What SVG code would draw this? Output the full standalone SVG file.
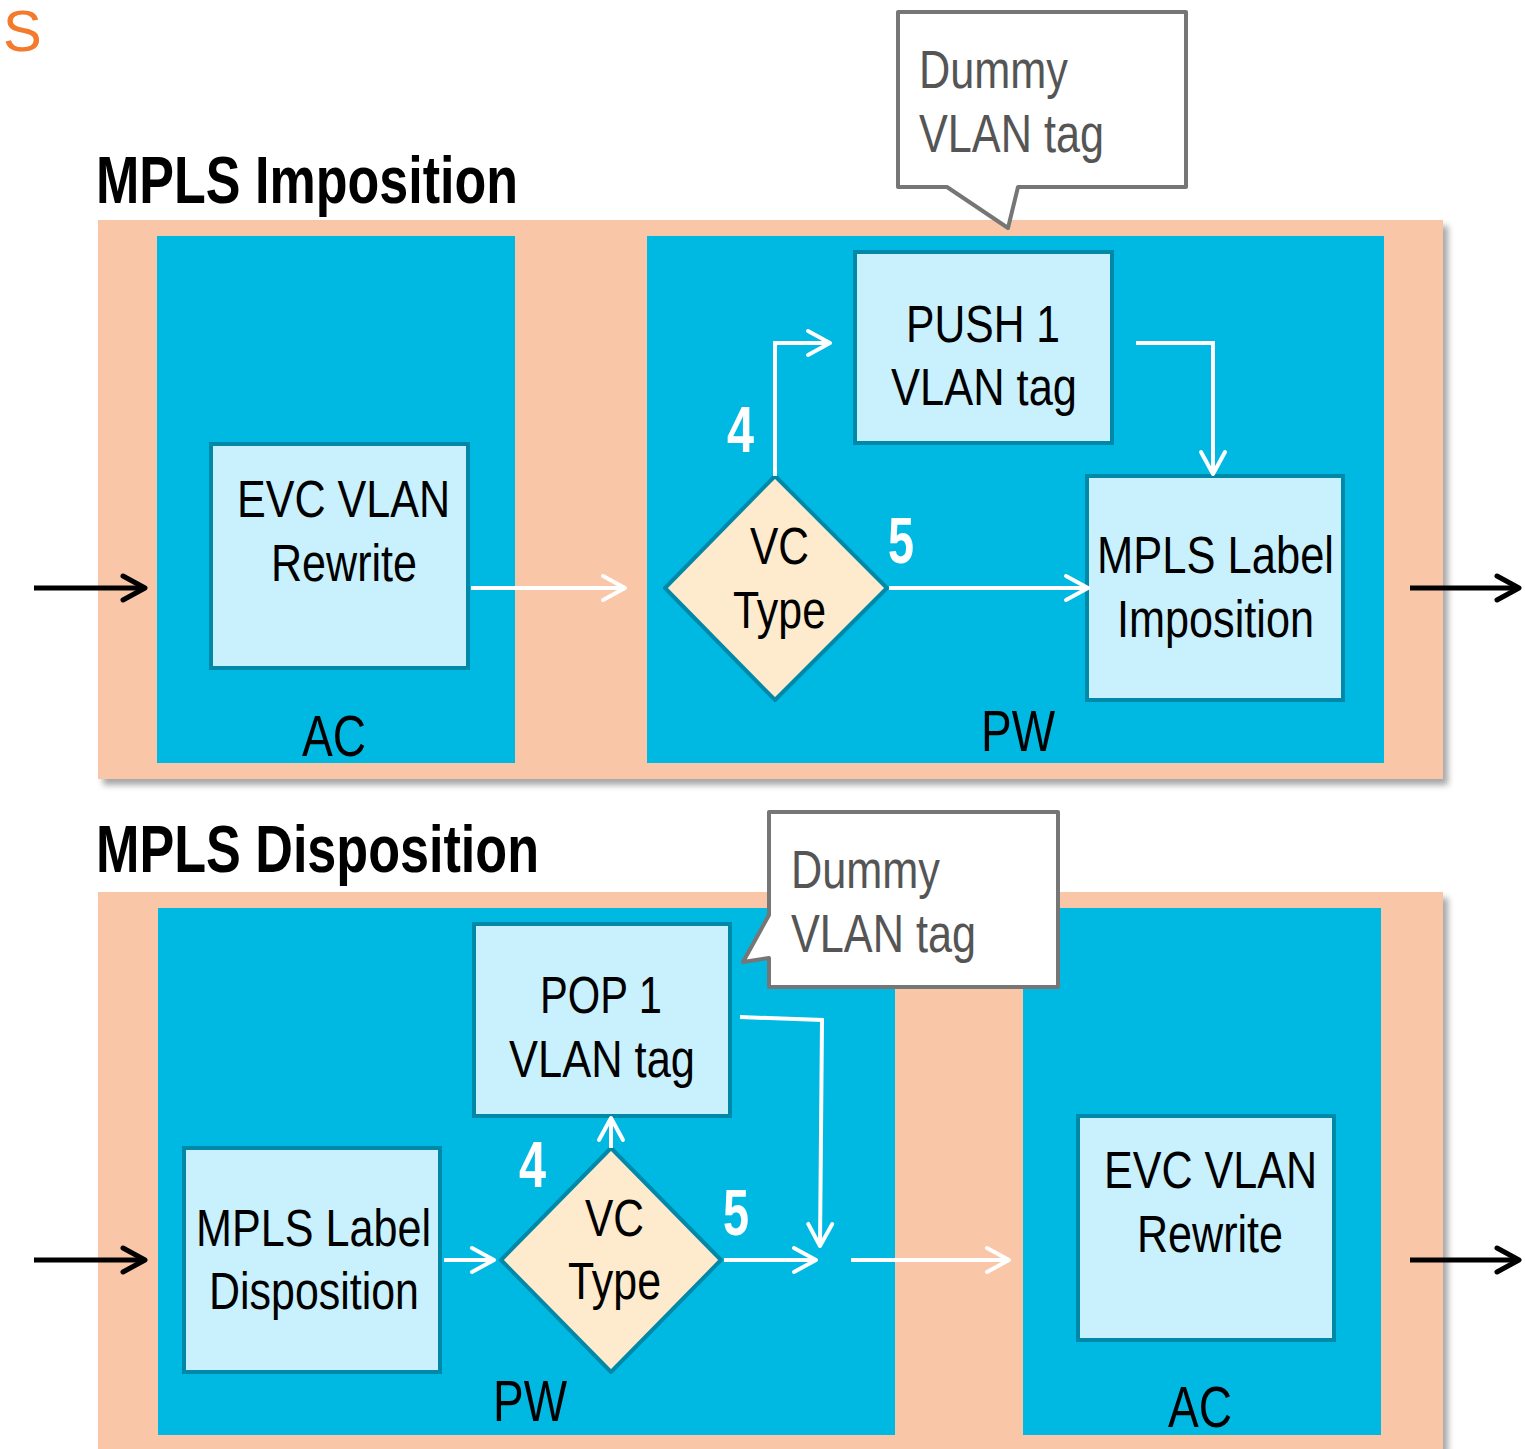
<svg xmlns="http://www.w3.org/2000/svg" width="1525" height="1449" viewBox="0 0 1525 1449">
<style>
text{font-family:"Liberation Sans",Arial,sans-serif;}
.lbl{font-size:51px;fill:#000;}
.big{font-size:57px;fill:#000;}
.title{font-size:67px;font-weight:bold;fill:#000;}
.num{font-size:64px;font-weight:bold;fill:#fff;}
.call{font-size:53px;fill:#555;}
.peach{fill:#F9C6A7;}
.blue{fill:#00B9E3;}
.box{fill:#C9F1FD;stroke:#0088A8;stroke-width:4;}
.dia{fill:#FEEBCD;stroke:#0088A8;stroke-width:4;stroke-linejoin:round;}
.callout{fill:#fff;stroke:#767676;stroke-width:4;stroke-linejoin:round;}
.w{fill:none;stroke:#fff;stroke-width:4;marker-end:url(#aw);}
.k{fill:none;stroke:#000;stroke-width:5;marker-end:url(#ak);}
</style>
<defs>
<filter id="sh" x="-5%" y="-5%" width="112%" height="115%">
<feDropShadow dx="5" dy="6" stdDeviation="3" flood-color="#000" flood-opacity="0.35"/>
</filter>
<marker id="aw" viewBox="-26 -16 30 32" refX="0" refY="0" markerWidth="30" markerHeight="32" markerUnits="userSpaceOnUse" orient="auto">
<path d="M-22,-12 L0,0 L-22,12" fill="none" stroke="#fff" stroke-width="4" stroke-linecap="round" stroke-linejoin="round"/>
</marker>
<marker id="ak" viewBox="-26 -16 30 32" refX="0" refY="0" markerWidth="30" markerHeight="32" markerUnits="userSpaceOnUse" orient="auto">
<path d="M-22,-12 L0,0 L-22,12" fill="none" stroke="#000" stroke-width="5" stroke-linecap="round" stroke-linejoin="round"/>
</marker>
</defs>
<rect width="1525" height="1449" fill="#fff"/>
<text id="logo" x="3" y="51" style="font-size:58px;fill:#F47A2C;">S</text>

<!-- Top section -->
<text id="title-imposition" class="title" x="96" y="203" textLength="422" lengthAdjust="spacingAndGlyphs">MPLS Imposition</text>
<g id="panel-imposition">
<rect class="peach" x="98" y="220" width="1345" height="559" filter="url(#sh)"/>
</g>
<g id="ac-top">
<rect class="blue" x="157" y="236" width="358" height="527"/>
<text class="big" x="302" y="756" textLength="64" lengthAdjust="spacingAndGlyphs">AC</text>
</g>
<g id="pw-top">
<rect class="blue" x="647" y="236" width="737" height="527"/>
<text class="big" x="981" y="751" textLength="74" lengthAdjust="spacingAndGlyphs">PW</text>
</g>
<g id="evc-top">
<rect class="box" x="211" y="444" width="257" height="224"/>
<text class="lbl" x="237" y="517" textLength="213" lengthAdjust="spacingAndGlyphs">EVC VLAN</text>
<text class="lbl" x="271" y="581" textLength="146" lengthAdjust="spacingAndGlyphs">Rewrite</text>
</g>
<g id="vc-top">
<polygon class="dia" points="775,476 887,588 775,700 665,588"/>
<text class="lbl" x="750" y="564" textLength="59" lengthAdjust="spacingAndGlyphs">VC</text>
<text class="lbl" x="733" y="628" textLength="93" lengthAdjust="spacingAndGlyphs">Type</text>
</g>
<g id="push-top">
<rect class="box" x="855" y="252" width="257" height="191"/>
<text class="lbl" x="906" y="342" textLength="154" lengthAdjust="spacingAndGlyphs">PUSH 1</text>
<text class="lbl" x="891" y="405" textLength="186" lengthAdjust="spacingAndGlyphs">VLAN tag</text>
</g>
<g id="mpls-imp">
<rect class="box" x="1087" y="476" width="256" height="224"/>
<text class="lbl" x="1097" y="573" textLength="237" lengthAdjust="spacingAndGlyphs">MPLS Label</text>
<text class="lbl" x="1117" y="637" textLength="197" lengthAdjust="spacingAndGlyphs">Imposition</text>
</g>
<g id="callout-top">
<path class="callout" d="M898,12 H1186 V187 H1018 L1008,228 L947,187 H898 Z"/>
<text class="call" x="919" y="88" textLength="149" lengthAdjust="spacingAndGlyphs">Dummy</text>
<text class="call" x="919" y="152" textLength="185" lengthAdjust="spacingAndGlyphs">VLAN tag</text>
</g>

<!-- Bottom section -->
<text id="title-disposition" class="title" x="96" y="872" textLength="443" lengthAdjust="spacingAndGlyphs">MPLS Disposition</text>
<g id="panel-disposition">
<rect class="peach" x="98" y="892" width="1345" height="580" filter="url(#sh)"/>
</g>
<g id="pw-bottom">
<rect class="blue" x="158" y="908" width="737" height="527"/>
<text class="big" x="493" y="1421" textLength="74" lengthAdjust="spacingAndGlyphs">PW</text>
</g>
<g id="ac-bottom">
<rect class="blue" x="1023" y="908" width="358" height="527"/>
<text class="big" x="1168" y="1427" textLength="64" lengthAdjust="spacingAndGlyphs">AC</text>
</g>
<g id="mpls-disp">
<rect class="box" x="184" y="1148" width="256" height="224"/>
<text class="lbl" x="196" y="1246" textLength="235" lengthAdjust="spacingAndGlyphs">MPLS Label</text>
<text class="lbl" x="209" y="1309" textLength="210" lengthAdjust="spacingAndGlyphs">Disposition</text>
</g>
<g id="vc-bottom">
<polygon class="dia" points="611,1148 721,1260 611,1372 501,1260"/>
<text class="lbl" x="585" y="1236" textLength="59" lengthAdjust="spacingAndGlyphs">VC</text>
<text class="lbl" x="568" y="1299" textLength="93" lengthAdjust="spacingAndGlyphs">Type</text>
</g>
<g id="pop-bottom">
<rect class="box" x="474" y="924" width="256" height="192"/>
<text class="lbl" x="540" y="1013" textLength="122" lengthAdjust="spacingAndGlyphs">POP 1</text>
<text class="lbl" x="509" y="1077" textLength="186" lengthAdjust="spacingAndGlyphs">VLAN tag</text>
</g>
<g id="evc-bottom">
<rect class="box" x="1078" y="1116" width="256" height="224"/>
<text class="lbl" x="1104" y="1188" textLength="213" lengthAdjust="spacingAndGlyphs">EVC VLAN</text>
<text class="lbl" x="1137" y="1252" textLength="146" lengthAdjust="spacingAndGlyphs">Rewrite</text>
</g>
<g id="callout-bottom">
<path class="callout" d="M769,812 H1058 V987 H769 V958 L743,962 L769,915 Z"/>
<text class="call" x="791" y="888" textLength="149" lengthAdjust="spacingAndGlyphs">Dummy</text>
<text class="call" x="791" y="952" textLength="185" lengthAdjust="spacingAndGlyphs">VLAN tag</text>
</g>

<g id="connectors">
<line class="k" x1="34" y1="588" x2="145" y2="588"/>
<line class="w" x1="471" y1="588" x2="625" y2="588"/>
<polyline class="w" points="775,476 775,343 830,343"/>
<polyline class="w" points="1136,343 1213,343 1213,474"/>
<line class="w" x1="889" y1="588" x2="1088" y2="588"/>
<line class="k" x1="1410" y1="588" x2="1519" y2="588"/>

<line class="k" x1="34" y1="1260" x2="145" y2="1260"/>
<line class="w" x1="444" y1="1260" x2="494" y2="1260"/>
<line class="w" x1="611" y1="1148" x2="611" y2="1118"/>
<line class="w" x1="724" y1="1260" x2="816" y2="1260"/>
<polyline class="w" points="740,1017 822,1020 820,1246"/>
<line class="w" x1="851" y1="1260" x2="1009" y2="1260"/>
<line class="k" x1="1410" y1="1260" x2="1519" y2="1260"/>
</g>
<g id="labels">
<text class="num" x="727" y="452" textLength="27" lengthAdjust="spacingAndGlyphs">4</text>
<text class="num" x="888" y="563" textLength="26" lengthAdjust="spacingAndGlyphs">5</text>
<text class="num" x="519" y="1187" textLength="27" lengthAdjust="spacingAndGlyphs">4</text>
<text class="num" x="723" y="1235" textLength="26" lengthAdjust="spacingAndGlyphs">5</text>
</g>
</svg>
